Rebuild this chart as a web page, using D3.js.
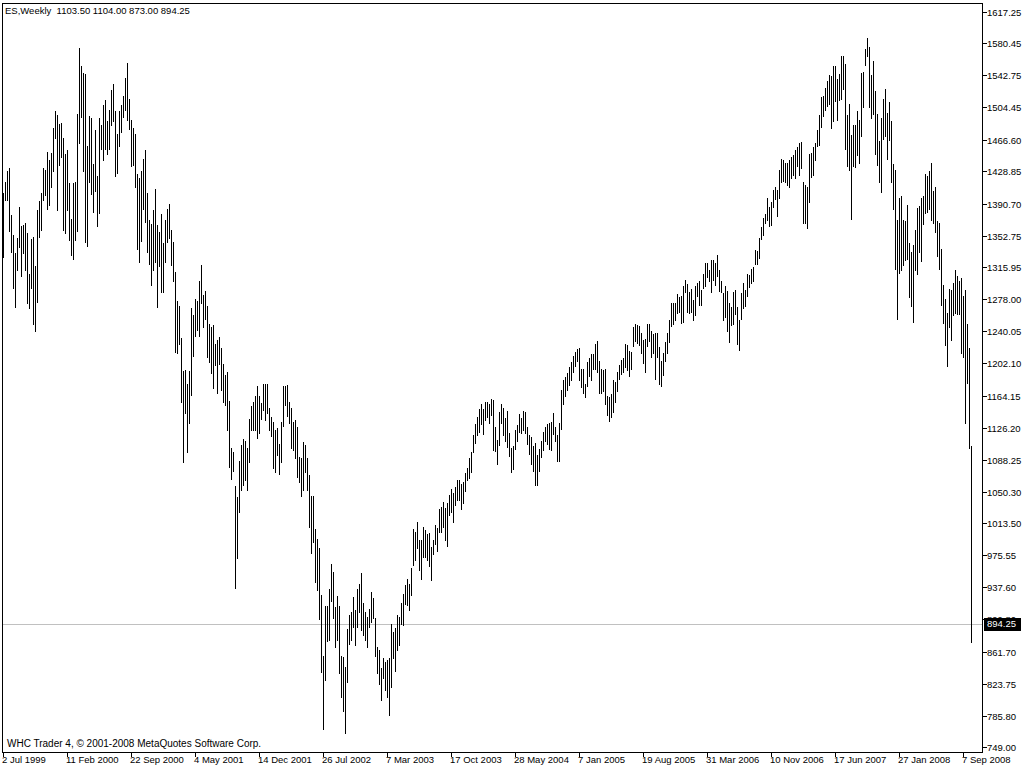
<!DOCTYPE html>
<html><head><meta charset="utf-8">
<script src="https://cdn.jsdelivr.net/npm/d3@7"></script>
<style>
html,body{margin:0;padding:0;background:#fff;overflow:hidden}
text{font-family:"Liberation Sans",Arial,sans-serif;font-size:9.5px;fill:#000}
</style>
</head><body>
<svg id="c" width="1024" height="768"></svg>
<script>
// Weekly bar highs (bar 0 = 2 Jul 1999, one bar per week)
const highs = [
1403,1417,1429,1433,1377,1354,1332,1350,1387,1364,
1366,1368,1356,1308,1349,1351,1317,1383,1394,1403,
1433,1431,1452,1442,1451,1480,1500,1496,1485,1486,
1468,1450,1454,1415,1373,1415,1416,1497,1575,1553,
1545,1544,1459,1494,1492,1438,1478,1423,1492,1484,
1507,1513,1488,1502,1525,1532,1500,1473,1500,1507,
1518,1539,1557,1515,1490,1480,1473,1426,1421,1429,
1444,1454,1403,1372,1367,1383,1408,1366,1357,1379,
1344,1371,1385,1390,1360,1345,1310,1276,1270,1232,
1193,1194,1178,1193,1267,1259,1278,1276,1299,1318,
1283,1288,1270,1249,1245,1247,1225,1230,1233,1220,
1202,1188,1192,1158,1102,1098,1057,1044,1087,1106,
1113,1111,1102,1136,1152,1156,1164,1175,1164,1155,
1178,1178,1178,1150,1139,1133,1124,1126,1107,1133,
1176,1175,1177,1157,1149,1133,1135,1127,1092,1090,
1109,1106,1090,1070,1045,1045,1006,995,984,928,
856,915,915,936,965,956,914,927,916,856,
855,843,888,905,909,926,911,936,942,954,
919,909,902,912,932,925,901,867,864,842,
854,850,852,854,894,885,889,905,902,919,
930,940,948,942,960,1007,1003,1015,993,994,
1009,1005,1001,1002,985,993,1011,1008,1030,1033,
1039,1031,1037,1047,1054,1049,1056,1064,1064,1060,
1062,1073,1079,1090,1097,1117,1131,1139,1148,1154,
1148,1157,1157,1154,1160,1159,1127,1112,1145,1154,
1149,1138,1146,1120,1102,1105,1123,1129,1142,1138,
1146,1145,1127,1118,1115,1104,1108,1094,1101,1110,
1121,1127,1131,1132,1133,1144,1127,1118,1132,1171,
1183,1186,1191,1198,1204,1211,1216,1219,1220,1196,
1196,1178,1204,1209,1213,1213,1225,1229,1205,1196,
1194,1195,1164,1163,1166,1182,1180,1192,1200,1206,
1209,1225,1224,1217,1216,1245,1249,1247,1246,1238,
1230,1231,1249,1249,1240,1237,1238,1238,1222,1205,
1215,1228,1238,1253,1273,1273,1274,1284,1280,1282,
1293,1301,1296,1287,1290,1277,1293,1297,1300,1289,
1308,1321,1321,1312,1324,1324,1321,1330,1312,1300,
1285,1294,1288,1273,1269,1286,1289,1269,1253,1285,
1297,1289,1308,1307,1314,1316,1336,1335,1350,1363,
1374,1379,1397,1387,1393,1407,1411,1407,1431,1444,
1443,1439,1439,1442,1446,1448,1454,1458,1462,1464,
1417,1413,1411,1450,1451,1458,1462,1478,1495,1517,
1518,1527,1536,1543,1542,1553,1553,1538,1544,1565,
1565,1556,1496,1509,1472,1484,1484,1500,1490,1545,
1546,1573,1586,1576,1543,1559,1524,1497,1465,1492,
1514,1526,1498,1511,1489,1438,1431,1371,1397,1400,
1371,1370,1389,1344,1334,1342,1360,1386,1388,1397,
1400,1426,1423,1429,1439,1406,1410,1370,1368,1337,
1295,1278,1262,1290,1289,1297,1312,1305,1300,1303,
1282,1289,1249,1220,1104
];
// Weekly bar lows
const lows = [
1328,1395,1395,1358,1334,1291,1269,1312,1340,1305,
1332,1312,1273,1267,1291,1249,1240,1275,1352,1360,
1395,1401,1385,1389,1411,1429,1468,1383,1437,1446,
1360,1356,1383,1348,1330,1326,1348,1358,1462,1493,
1430,1346,1341,1416,1402,1381,1406,1364,1380,1455,
1442,1456,1450,1455,1484,1488,1423,1427,1459,1475,
1493,1502,1490,1479,1435,1436,1410,1337,1322,1347,
1385,1369,1334,1319,1295,1312,1322,1269,1317,1287,
1286,1322,1345,1350,1318,1300,1216,1214,1225,1157,
1086,1143,1097,1132,1165,1211,1234,1242,1234,1273,
1245,1255,1210,1204,1191,1173,1200,1167,1202,1171,
1157,1153,1123,1080,1066,1075,937,972,1027,1053,
1058,1064,1053,1086,1123,1124,1123,1114,1120,1137,
1147,1135,1144,1123,1116,1079,1074,1094,1072,1086,
1128,1153,1140,1132,1102,1100,1090,1068,1062,1045,
1053,1074,1053,1009,978,991,944,934,900,838,
770,828,874,875,921,901,867,875,837,808,
791,766,826,871,875,891,869,891,909,887,
881,875,867,891,897,901,856,837,824,804,
830,816,808,787,820,854,839,863,869,894,
893,918,917,911,928,964,970,984,958,947,
974,974,970,963,946,977,989,981,1003,1003,
1009,993,987,1023,1027,1015,1035,1041,1041,1030,
1037,1052,1064,1067,1074,1097,1108,1117,1121,1131,
1119,1135,1139,1132,1141,1100,1099,1083,1106,1132,
1118,1111,1103,1093,1074,1077,1101,1111,1121,1120,
1123,1120,1107,1095,1083,1075,1058,1058,1075,1091,
1100,1111,1107,1101,1100,1119,1111,1087,1087,1125,
1154,1164,1171,1177,1182,1192,1199,1205,1182,1174,
1167,1163,1175,1187,1182,1196,1196,1192,1167,1167,
1170,1154,1141,1134,1139,1145,1157,1170,1184,1190,
1192,1198,1194,1187,1195,1223,1229,1226,1224,1215,
1203,1192,1223,1229,1210,1214,1184,1210,1178,1175,
1188,1205,1215,1228,1246,1249,1253,1262,1263,1250,
1251,1287,1263,1262,1263,1254,1259,1282,1271,1271,
1291,1294,1304,1299,1287,1301,1295,1305,1288,1286,
1253,1257,1240,1228,1247,1249,1260,1225,1218,1255,
1268,1270,1282,1292,1297,1300,1320,1320,1327,1349,
1354,1368,1371,1364,1366,1387,1396,1376,1397,1416,
1418,1417,1413,1411,1421,1425,1421,1435,1425,1433,
1368,1368,1362,1393,1422,1425,1442,1459,1460,1481,
1494,1502,1506,1509,1480,1488,1512,1490,1513,1514,
1526,1456,1435,1431,1373,1435,1434,1448,1439,1471,
1505,1555,1565,1505,1492,1497,1450,1437,1417,1405,
1467,1471,1444,1466,1416,1384,1314,1255,1309,1312,
1318,1324,1326,1281,1270,1251,1313,1308,1334,1323,
1367,1380,1381,1384,1371,1368,1357,1329,1314,1271,
1250,1224,1199,1245,1230,1259,1262,1260,1260,1215,
1210,1132,1179,1102,873
];
const dateLabels = ["2 Jul 1999","11 Feb 2000","22 Sep 2000","4 May 2001","14 Dec 2001","26 Jul 2002","7 Mar 2003","17 Oct 2003","28 May 2004","7 Jan 2005","19 Aug 2005","31 Mar 2006","10 Nov 2006","17 Jun 2007","27 Jan 2008","7 Sep 2008"];
const dateLabelBars = [0,32,64,96,128,160,192,224,256,288,320,352,384,416,448,480];
const priceTicks = [1617.25,1580.45,1542.75,1504.45,1466.60,1428.85,1390.70,1352.75,1315.95,1278.00,1240.05,1202.10,1164.15,1126.20,1088.25,1050.30,1013.50,975.55,937.60,899.80,861.70,823.75,785.80,749.00];
const symbol = "ES,Weekly";
const lastOHLC = [1103.50,1104.00,873.00,894.25];
const footer = "WHC Trader 4, \u00A9 2001-2008 MetaQuotes Software Corp.";

const svg = d3.select("#c");
const L = 2.5, R = 982.5, T = 3.5, B = 752.5;
const x = d3.scaleLinear().domain([0, 484]).range([3.5, 971.5]);
const y = d3.scaleLinear().domain([749, 1617.25]).range([747, 12]);

svg.append("rect").attr("width",1024).attr("height",768).attr("fill","#fff");

// last price line
const lastClose = lastOHLC[3];
const ly = Math.round(y(lastClose)) + 0.5;
svg.append("line").attr("x1",L).attr("x2",R).attr("y1",ly).attr("y2",ly)
  .attr("stroke","#c0c0c0").attr("stroke-width",1);

// bars
const n = Math.min(highs.length, lows.length);
const idx = d3.range(n);
svg.append("g").selectAll("line").data(idx).join("line")
  .attr("x1", i => x(i)).attr("x2", i => x(i))
  .attr("y1", i => Math.round(y(highs[i])))
  .attr("y2", i => Math.round(y(lows[i])) + 1)
  .attr("stroke","#000").attr("stroke-width",1)
  .attr("shape-rendering","crispEdges");

// frame
svg.append("rect").attr("x",L).attr("y",T).attr("width",R-L).attr("height",B-T)
  .attr("fill","none").attr("stroke","#000").attr("stroke-width",1)
  .attr("shape-rendering","crispEdges");

// price axis
const pa = svg.append("g");
priceTicks.forEach(p => {
  const py = Math.round(y(p)) + 0.5;
  pa.append("line").attr("x1",R).attr("x2",R+4).attr("y1",py).attr("y2",py)
    .attr("stroke","#000").attr("shape-rendering","crispEdges");
  pa.append("text").attr("x",987).attr("y",py).attr("dy","0.35em").text(p.toFixed(2));
});

// last price box (covers the nearby axis label, as in the terminal)
const by = Math.round(y(lastClose));
svg.append("rect").attr("x",984).attr("y",by-6).attr("width",37).attr("height",13).attr("fill","#000");
svg.append("text").attr("x",987).attr("y",by).attr("dy","0.35em").style("fill","#fff").text(lastClose.toFixed(2));

// time axis
const ta = svg.append("g");
dateLabelBars.forEach((b, k) => {
  const tx = Math.round(x(b)) - 0.5;
  ta.append("line").attr("x1",tx).attr("x2",tx).attr("y1",B).attr("y2",B+4)
    .attr("stroke","#000").attr("shape-rendering","crispEdges");
  ta.append("text").attr("x",tx-1.5).attr("y",763).text(dateLabels[k]);
});

// header and footer
svg.append("text").attr("x",5).attr("y",14).style("white-space","pre")
  .text(symbol + "  " + lastOHLC.map(v => v.toFixed(2)).join(" "));
svg.append("text").attr("x",7).attr("y",747).style("font-size","10px").text(footer);
</script>
</body></html>
